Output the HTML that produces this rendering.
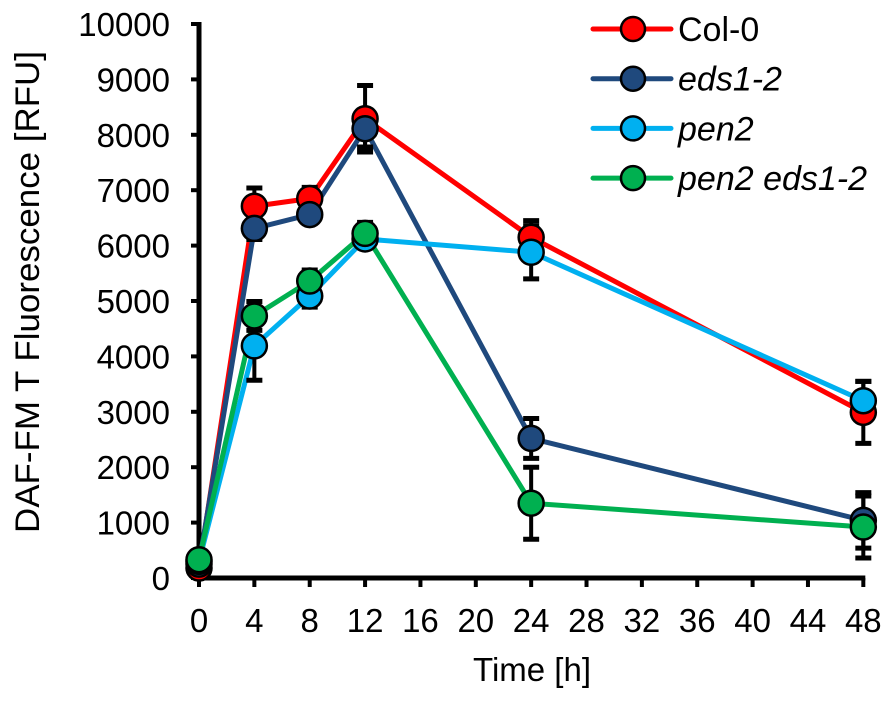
<!DOCTYPE html>
<html><head><meta charset="utf-8">
<style>
html,body{margin:0;padding:0;background:#fff;}
svg{display:block;font-family:"Liberation Sans",Arial,sans-serif;}
</style></head>
<body>
<svg id="chart" width="892" height="702" viewBox="0 0 892 702" xmlns="http://www.w3.org/2000/svg"></svg>
<script>
const times = [0, 4, 8, 12, 24, 48];
const seriesNames = ["Col-0", "eds1-2", "pen2", "pen2 eds1-2"];
const colVals = [180, 6710, 6850, 8290, 6150, 2990];
const colErr = [100, 330, 200, 600, 300, 560];
const edsVals = [250, 6310, 6560, 8110, 2520, 1040];
const edsErr = [100, 200, 150, 330, 360, 500];
const penVals = [300, 4190, 5090, 6120, 5880, 3200];
const penErr = [100, 620, 200, 150, 480, 350];
const peVals = [330, 4730, 5360, 6220, 1350, 920];
const peErr = [100, 260, 200, 200, 650, 560];
const xTicks = [0,4,8,12,16,20,24,28,32,36,40,44,48];
const yTicks = [0,1000,2000,3000,4000,5000,6000,7000,8000,9000,10000];

const NS = "http://www.w3.org/2000/svg";
const svg = document.getElementById("chart");
const X0 = 199, XPX = 13.84, Y0 = 578, YPX = 0.0554;
function sx(t){ return X0 + t*XPX; }
function sy(v){ return Y0 - v*YPX; }
function mk(tag, attrs, parent){
  const e = document.createElementNS(NS, tag);
  for (const k in attrs) e.setAttribute(k, attrs[k]);
  (parent||svg).appendChild(e);
  return e;
}

const ax = mk("g", {});


mk("line", {x1:X0, y1:sy(10000)-2, x2:X0, y2:Y0+2, stroke:"#000","stroke-width":5}, ax);
mk("line", {x1:X0-2, y1:Y0, x2:sx(48)+2, y2:Y0, stroke:"#000","stroke-width":5}, ax);
yTicks.forEach(v=>{
  mk("line",{x1:X0-8,y1:sy(v),x2:X0,y2:sy(v),stroke:"#000","stroke-width":4},ax);
  const t = mk("text",{x:X0-29,y:sy(v)+12,"text-anchor":"end","font-size":33},ax);
  t.textContent = v;
  
  
});
xTicks.forEach(v=>{
  mk("line",{x1:sx(v),y1:Y0,x2:sx(v),y2:Y0+9,stroke:"#000","stroke-width":4},ax);
  const t = mk("text",{x:sx(v),y:Y0+54,"text-anchor":"middle","font-size":33},ax);
  t.textContent = v;
  
  
});
const xt = mk("text",{x:532,y:681,"text-anchor":"middle","font-size":33});
xt.textContent = "Time [h]";


const yt = mk("text",{x:0,y:0,"text-anchor":"middle","font-size":34,textLength:482,lengthAdjust:"spacingAndGlyphs",transform:"translate(39,292) rotate(-90)"});
yt.textContent = "DAF-FM T Fluorescence [RFU]";



const series = [
  {name:seriesNames[0], vals:colVals, err:colErr, color:"#ff0000"},
  {name:seriesNames[1], vals:edsVals, err:edsErr, color:"#1f497d"},
  {name:seriesNames[2], vals:penVals, err:penErr, color:"#00b0f0"},
  {name:seriesNames[3], vals:peVals, err:peErr, color:"#00b050"}
];

series.forEach((s,i)=>{
  const pts = times.map((t,j)=>sx(t)+","+sy(s.vals[j])).join(" ");
  const pl = mk("polyline",{points:pts,fill:"none",stroke:s.color,"stroke-width":5,"stroke-linejoin":"round"});
  
  
});
series.forEach(s=>{
  times.forEach((t,j)=>{
    const x = sx(t), y1 = sy(s.vals[j]+s.err[j]), y2 = sy(s.vals[j]-s.err[j]);
    const g = mk("g",{});
    
    
    mk("line",{x1:x,y1:y1,x2:x,y2:y2,stroke:"#000","stroke-width":4},g);
    mk("line",{x1:x-8,y1:y1,x2:x+8,y2:y1,stroke:"#000","stroke-width":5},g);
    mk("line",{x1:x-8,y1:y2,x2:x+8,y2:y2,stroke:"#000","stroke-width":5},g);
  });
});
series.forEach(s=>{
  times.forEach((t,j)=>{
    const c = mk("circle",{cx:sx(t),cy:sy(s.vals[j]),r:12.5,fill:s.color,stroke:"#000","stroke-width":2.5});
    
    
  });
});
const lg = mk("g",{});


series.forEach((s,i)=>{
  const y = 29 + i*49.7;
  const e = mk("g",{},lg);
  
  
  mk("line",{x1:593,y1:y,x2:671,y2:y,stroke:s.color,"stroke-width":5,"stroke-linecap":"round"},e);
  mk("circle",{cx:633,cy:y,r:12,fill:s.color,stroke:"#000","stroke-width":2.5},e);
  const t = mk("text",{x:678,y:y+12,"font-size":34,"font-style":i===0?"normal":"italic"},e);
  t.textContent = s.name;
});
</script>
</body></html>
